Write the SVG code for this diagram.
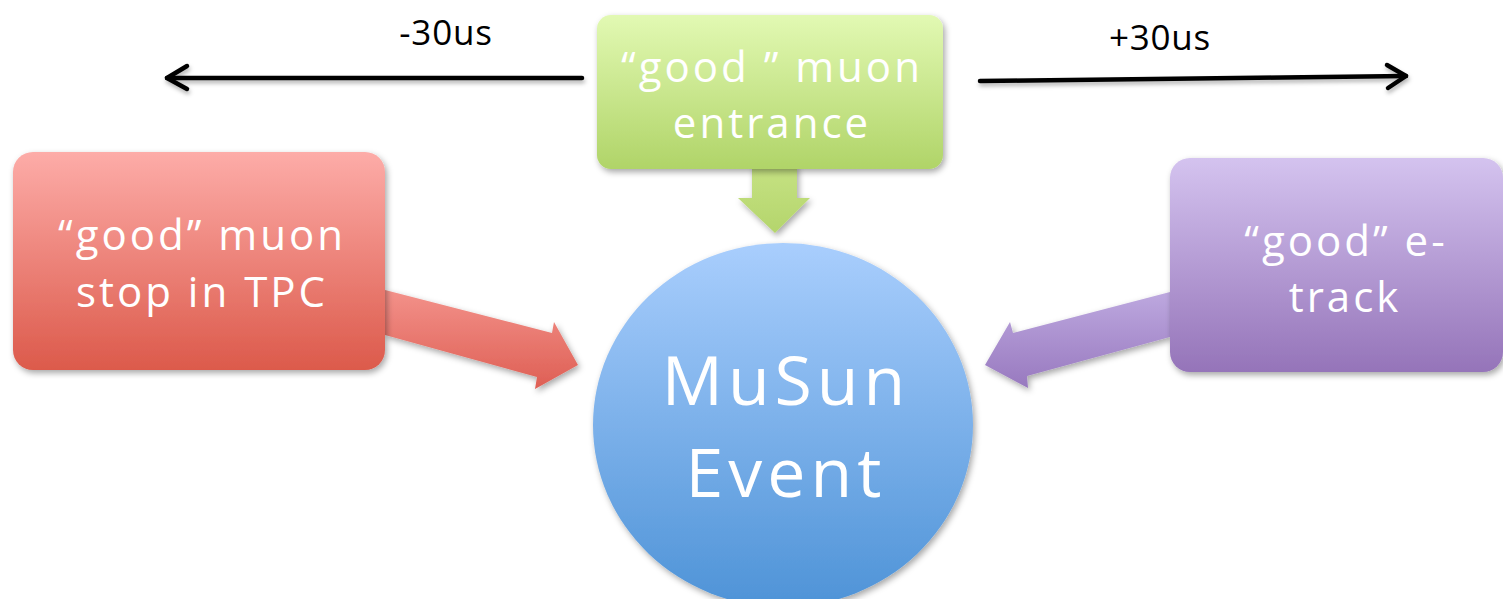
<svg xmlns="http://www.w3.org/2000/svg" width="1503" height="599" viewBox="0 0 1503 599">
  <defs>
    <linearGradient id="gGreen" x1="0" y1="0" x2="0" y2="1">
      <stop offset="0" stop-color="#e2f9b3"/>
      <stop offset="1" stop-color="#b0d468"/>
    </linearGradient>
    <linearGradient id="gRed" x1="0" y1="0" x2="0" y2="1">
      <stop offset="0" stop-color="#fdaca8"/>
      <stop offset="1" stop-color="#dc5a4b"/>
    </linearGradient>
    <linearGradient id="gPurple" x1="0" y1="0" x2="0" y2="1">
      <stop offset="0" stop-color="#d4c3ef"/>
      <stop offset="1" stop-color="#9574b9"/>
    </linearGradient>
    <linearGradient id="gBlue" x1="0" y1="0" x2="0" y2="1">
      <stop offset="0" stop-color="#a9cefd"/>
      <stop offset="1" stop-color="#4e93d7"/>
    </linearGradient>
    <linearGradient id="gRedArrow" x1="0" y1="0" x2="0" y2="1">
      <stop offset="0" stop-color="#f3918a"/>
      <stop offset="1" stop-color="#de5f54"/>
    </linearGradient>
    <linearGradient id="gPurpleArrow" x1="0" y1="0" x2="0" y2="1">
      <stop offset="0" stop-color="#bda8df"/>
      <stop offset="1" stop-color="#9879bf"/>
    </linearGradient>
    <linearGradient id="gGreenArrow" x1="0" y1="0" x2="0" y2="1">
      <stop offset="0" stop-color="#c6e283"/>
      <stop offset="1" stop-color="#b4d56c"/>
    </linearGradient>
    <filter id="shadow" x="-20%" y="-20%" width="140%" height="140%">
      <feDropShadow dx="2" dy="3" stdDeviation="3" flood-color="#000" flood-opacity="0.35"/>
    </filter>
    <filter id="lineShadow" x="-5%" y="-50%" width="110%" height="200%">
      <feDropShadow dx="1" dy="3" stdDeviation="2" flood-color="#000" flood-opacity="0.3"/>
    </filter>
  </defs>
  <style>
    .lbl { font-family: "Open Sans", "Liberation Sans", sans-serif; fill: #ffffff; text-anchor: middle; }
    .box { font-size: 42px; letter-spacing: 3px; }
    .big { font-size: 68px; letter-spacing: 5px; }
    .time { font-family: "Open Sans", "Liberation Sans", sans-serif; fill: #000000; text-anchor: middle; font-size: 35px; letter-spacing: 0.8px; }
    .tl { fill: none; stroke: #000; stroke-width: 4.5; stroke-linecap: round; stroke-linejoin: round; }
  </style>
  <rect width="1503" height="599" fill="#ffffff"/>

  <g id="connectors">
    <g id="time-minus" filter="url(#lineShadow)">
      <line class="tl" x1="582" y1="78" x2="167" y2="78"/>
      <polyline class="tl" points="187,66 167,78 187,89"/>
    </g>
    <text class="time" x="446" y="45">-30us</text>
    <g id="time-plus" filter="url(#lineShadow)">
      <line class="tl" x1="980" y1="81" x2="1406" y2="76"/>
      <polyline class="tl" points="1387,65 1406,76 1388,88"/>
    </g>
    <text class="time" x="1160" y="50">+30us</text>
    <polygon id="arrow-red" filter="url(#shadow)" fill="url(#gRedArrow)" points="385,290 552,333 554,322 578,365 535,389 537,377 385,335"/>
    <polygon id="arrow-purple" filter="url(#shadow)" fill="url(#gPurpleArrow)" points="1170,292 1013,333 1010,322 985,365 1028,388 1027,376 1170,337"/>
    <polygon id="arrow-green" filter="url(#shadow)" fill="url(#gGreenArrow)" points="752,165 797,165 797,198 810,198 775,233 738,198 752,198"/>
  </g>

  <g id="node-entrance">
    <rect x="597" y="15" width="346" height="154" rx="14" fill="url(#gGreen)" filter="url(#shadow)"/>
    <text class="lbl box" x="772" y="82">“good ” muon</text>
    <text class="lbl box" x="772" y="138">entrance</text>
  </g>

  <g id="node-stop">
    <rect x="13" y="152" width="372" height="218" rx="20" fill="url(#gRed)" filter="url(#shadow)"/>
    <text class="lbl box" x="202" y="250">“good” muon</text>
    <text class="lbl box" x="202" y="307">stop in TPC</text>
  </g>

  <g id="node-etrack">
    <rect x="1170" y="158" width="333" height="214" rx="20" fill="url(#gPurple)" filter="url(#shadow)"/>
    <text class="lbl box" x="1346" y="256">“good” e-</text>
    <text class="lbl box" x="1345" y="312">track</text>
  </g>

  <g id="node-event">
    <ellipse cx="783" cy="425" rx="190" ry="182" fill="url(#gBlue)" filter="url(#shadow)"/>
    <text class="lbl big" x="786" y="405">MuSun</text>
    <text class="lbl big" x="786" y="497">Event</text>
  </g>
</svg>
